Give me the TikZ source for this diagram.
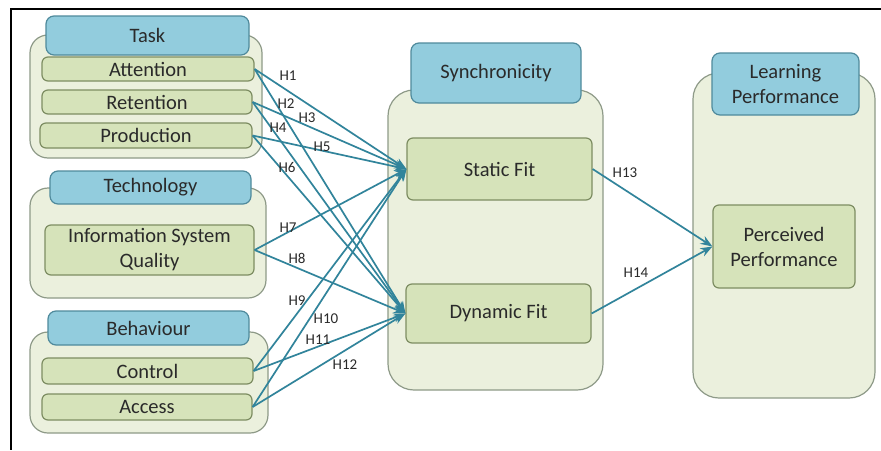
\documentclass[tikz,border=0pt]{standalone}
\usepackage{fontspec}
\setmainfont{Carlito}
\usetikzlibrary{arrows.meta}
\definecolor{outerfill}{HTML}{EBF0DD}
\definecolor{outerdraw}{HTML}{8E9A88}
\definecolor{itemfill}{HTML}{D6E3BA}
\definecolor{itemdraw}{HTML}{7D8D62}
\definecolor{headfill}{HTML}{92CCDD}
\definecolor{headdraw}{HTML}{4F8A9C}
\definecolor{arrowc}{HTML}{31849B}
\definecolor{txt}{HTML}{2A2A2A}
\begin{document}
\begin{tikzpicture}[x=1pt,y=-1pt,
  box/.style={rectangle, inner sep=0pt, align=center, font=\fontsize{20.5}{25}\selectfont, text=txt},
  group/.style={box, fill=outerfill, draw=outerdraw, line width=1.2pt, rounded corners=18pt},
  biggroup/.style={group, rounded corners=26pt},
  header/.style={box, fill=headfill, draw=headdraw, line width=1.2pt, rounded corners=8pt},
  item/.style={box, fill=itemfill, draw=itemdraw, line width=1.2pt, rounded corners=6pt},
  link/.style={draw=arrowc, line width=1.7pt, -{Stealth[length=12pt,width=9pt]}},
  hlab/.style={font=\fontsize{15}{15}\selectfont, text=txt, inner sep=0pt}]
\useasboundingbox (0,0) rectangle (881,450);
\fill[white] (0,0) rectangle (881,450);
\draw[line width=2pt] (881,9) -- (11,9) -- (11,450);

% Task
\node[group, minimum width=232pt, minimum height=123pt] (taskg) at (146,96.5) {};
\node[header, minimum width=203pt, minimum height=39pt] (taskh) at (147.5,35.5) {Task};
\node[item, minimum width=212pt, minimum height=24pt] (att) at (148,69) {Attention};
\node[item, minimum width=210pt, minimum height=24pt] (ret) at (147,102) {Retention};
\node[item, minimum width=212pt, minimum height=25pt] (prod) at (146,135.5) {Production};

% Technology
\node[group, minimum width=236pt, minimum height=110pt] (techg) at (148,243) {};
\node[header, minimum width=201pt, minimum height=33pt] (techh) at (150.5,187.5) {Technology};
\node[item, minimum width=209pt, minimum height=50pt] (isq) at (149.5,250) {Information System\\Quality};

% Behaviour
\node[group, minimum width=238pt, minimum height=101pt] (behg) at (149,382.5) {};
\node[header, minimum width=201pt, minimum height=34pt] (behh) at (148.5,328) {Behaviour};
\node[item, minimum width=211pt, minimum height=26pt] (ctrl) at (147.5,371) {Control};
\node[item, minimum width=210pt, minimum height=26pt] (acc) at (147,407) {Access};

% Synchronicity
\node[biggroup, minimum width=215pt, minimum height=300pt] (syncg) at (495.5,240) {};
\node[header, minimum width=170pt, minimum height=60pt] (synch) at (496,73) {Synchronicity};
\node[item, minimum width=185pt, minimum height=62pt] (sf) at (499.5,169) {Static Fit};
\node[item, minimum width=185pt, minimum height=59pt] (df) at (498.5,313.5) {Dynamic Fit};

% Learning Performance
\node[biggroup, minimum width=182pt, minimum height=325pt] (lpg) at (784,235.5) {};
\node[header, minimum width=147pt, minimum height=62pt] (lph) at (785.5,84) {Learning\\Performance};
\node[item, minimum width=142pt, minimum height=83pt] (pp) at (784,246.5) {Perceived\\Performance};

% Connectors
\draw[link] (att.east) -- (sf.west);
\draw[link] (att.east) -- (df.west);
\draw[link] (ret.east) -- (sf.west);
\draw[link] (ret.east) -- (df.west);
\draw[link] (prod.east) -- (sf.west);
\draw[link] (prod.east) -- (df.west);
\draw[link] (isq.east) -- (sf.west);
\draw[link] (isq.east) -- (df.west);
\draw[link] (ctrl.east) -- (sf.west);
\draw[link] (acc.east) -- (sf.west);
\draw[link] (ctrl.east) -- (df.west);
\draw[link] (acc.east) -- (df.west);
\draw[link] (sf.east) -- (pp.west);
\draw[link] (df.east) -- (pp.west);

% Labels
\node[hlab] (h1) at (288,76) {H1};
\node[hlab] (h2) at (286,104) {H2};
\node[hlab] (h3) at (307,118) {H3};
\node[hlab] (h4) at (278,128) {H4};
\node[hlab] (h5) at (322,147) {H5};
\node[hlab] (h6) at (287,167) {H6};
\node[hlab] (h7) at (288,228) {H7};
\node[hlab] (h8) at (297,258) {H8};
\node[hlab] (h9) at (297,301) {H9};
\node[hlab] (h10) at (326,319) {H10};
\node[hlab] (h11) at (318,340) {H11};
\node[hlab] (h12) at (345,365) {H12};
\node[hlab] (h13) at (625,173) {H13};
\node[hlab] (h14) at (636,273) {H14};
\end{tikzpicture}
\end{document}
